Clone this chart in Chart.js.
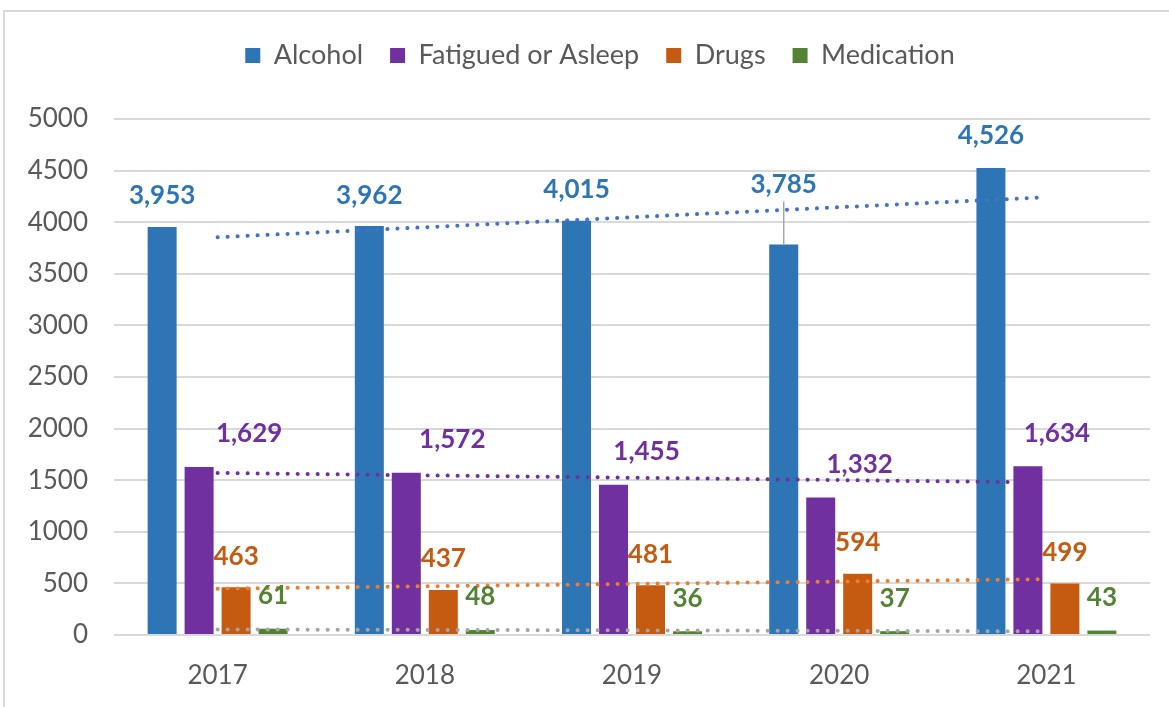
<!DOCTYPE html>
<html><head><meta charset="utf-8">
<script src="https://cdn.jsdelivr.net/npm/chart.js@4"></script>
<style>
html,body{margin:0;padding:0;background:#fff;overflow:hidden;width:1169px;height:707px}
#frame{position:absolute;left:3px;top:10px;width:1200px;height:760px;border:2px solid #d9d9d9;box-sizing:border-box}
#wrap{position:absolute;left:0;top:0;width:1169px;height:707px}
</style></head><body>
<div id="frame"></div>
<div id="wrap"><canvas id="c" width="1169" height="707"></canvas></div>
<script>
const years = ['2017', '2018', '2019', '2020', '2021'];
const alcohol = [3953, 3962, 4015, 3785, 4526];
const fatigued = [1629, 1572, 1455, 1332, 1634];
const drugs = [463, 437, 481, 594, 499];
const medication = [61, 48, 36, 37, 43];
// linear trendline endpoints (first and last year)
const alcoholTrend = [3854, null, null, null, 4242];
const fatiguedTrend = [1570, null, null, null, 1478];
const drugsTrend = [449, null, null, null, 541];
const medicationTrend = [54, null, null, null, 36];
const yTicks = [0, 500, 1000, 1500, 2000, 2500, 3000, 3500, 4000, 4500, 5000];

const FONT = 'Lato, "Open Sans", sans-serif';
const TXT = '#595959';
const colors = ['#2E75B6', '#7030A0', '#C55A11', '#548235'];
const trendColors = ['#4472C4', '#7030A0', '#ED7D31', '#A5A5A5'];

// label placement tweaks (pixels), per series per year
const labelDX = [[0,0,0,0,0],[50,46,33,39,29],[0,0,0,0,0],[0,0,0,0,0]];
const labelDY = [[-31,-31,-31,-60,-32],[-33,-33,-33,-33,-33],[-31,-31,-31,-31,-31],[-33,-33,-33,-33,-33]];

const barSeries = [
  {label: 'Alcohol', data: alcohol},
  {label: 'Fatigued or Asleep', data: fatigued},
  {label: 'Drugs', data: drugs},
  {label: 'Medication', data: medication}
];
const trendSeries = [alcoholTrend, fatiguedTrend, drugsTrend, medicationTrend];

const datasets = [];
barSeries.forEach((s, i) => datasets.push({
  type: 'bar', label: s.label, data: s.data, backgroundColor: colors[i],
  order: 2, categoryPercentage: 0.714, barPercentage: 0.784
}));
trendSeries.forEach((t, i) => datasets.push({
  type: 'line', label: 'trend' + i, data: t, borderColor: trendColors[i],
  borderWidth: 4, borderDash: [0.1, 9.9], borderCapStyle: 'round',
  pointRadius: 0, spanGaps: true, fill: false, order: 1, isTrend: true
}));

const labelPlugin = {
  id: 'vlabels',
  afterDatasetsDraw(chart) {
    const ctx = chart.ctx;
    ctx.save();
    ctx.font = 'bold 26px ' + FONT;
    ctx.textAlign = 'center';
    ctx.textBaseline = 'middle';
    for (let s = 0; s < 4; s++) {
      const meta = chart.getDatasetMeta(s);
      meta.data.forEach((bar, j) => {
        const v = barSeries[s].data[j];
        const x = bar.x + labelDX[s][j];
        const y = bar.y + labelDY[s][j];
        if (labelDY[s][j] < -45) {
          ctx.strokeStyle = '#A6A6A6';
          ctx.lineWidth = 1.5;
          ctx.beginPath();
          ctx.moveTo(x, y + 17);
          ctx.lineTo(x, bar.y);
          ctx.stroke();
        }
        ctx.fillStyle = colors[s];
        ctx.fillText(v.toLocaleString('en-US'), x, y);
      });
    }
    ctx.restore();
  }
};

// extra gap between the legend and the plot area, and a small right shift of the legend
const legendGap = {
  id: 'legendGap',
  beforeLayout(chart) {
    const lg = chart.legend;
    if (lg && !lg._gapPatched) {
      const orig = lg.fit.bind(lg);
      lg.fit = function () { orig(); this.height += 40; };
      lg._gapPatched = true;
    }
  },
  afterLayout(chart) {
    const lg = chart.legend;
    if (lg) { lg.left += 25; lg.right += 25; }
  }
};

new Chart(document.getElementById('c'), {
  data: {labels: years, datasets},
  options: {
    responsive: false, animation: false,
    layout: {padding: {top: 15, right: 19, left: 0, bottom: 0}},
    plugins: {
      legend: {
        position: 'top',
        labels: {
          filter: (item, data) => !data.datasets[item.datasetIndex].isTrend,
          boxWidth: 15, boxHeight: 15, padding: 27,
          color: TXT, font: {family: FONT, size: 27}
        }
      },
      tooltip: {enabled: false}
    },
    scales: {
      x: {
        grid: {display: false, drawTicks: false},
        border: {display: false},
        ticks: {color: TXT, font: {family: FONT, size: 26}, padding: 25},
        afterFit: s => { s.height = 72; }
      },
      y: {
        min: 0, max: 5000,
        afterBuildTicks: s => { s.ticks = yTicks.map(v => ({value: v})); },
        grid: {color: '#D9D9D9', lineWidth: 2, drawTicks: false},
        border: {display: false},
        ticks: {color: TXT, font: {family: FONT, size: 26}, padding: 26, callback: v => String(v)},
        afterFit: s => { s.width = 114; }
      }
    }
  },
  plugins: [labelPlugin, legendGap]
});
</script>
</body></html>
